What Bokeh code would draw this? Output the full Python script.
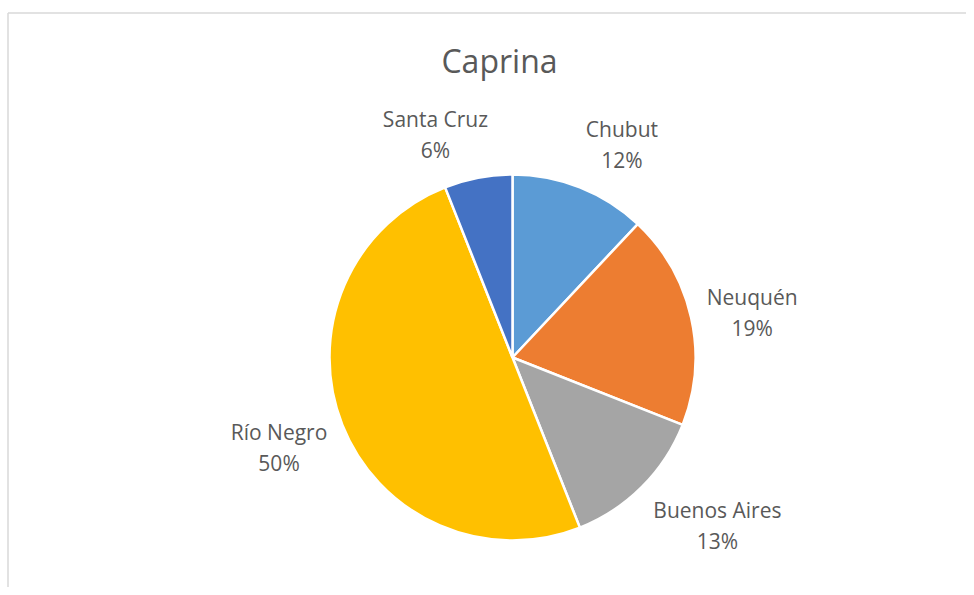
import math
from bokeh.plotting import figure
from bokeh.models import Range1d, ColumnDataSource
from bokeh.core.properties import value
from bokeh.embed import file_html
from bokeh.resources import INLINE

# ---- data ----
chart_title = "Caprina"
provinces = ["Chubut", "Neuquén", "Buenos Aires", "Río Negro", "Santa Cruz"]
shares = [12, 19, 13, 50, 6]
colors = ["#5B9BD5", "#ED7D31", "#A5A5A5", "#FFC000", "#4472C4"]

# ---- layout ----
W, H = 966, 587
CX, CY, R = 512, 230, 183          # pie centre / radius (px == data units)
FONT = "Open Sans"
TEXT_COLOR = "#595959"
LABEL_SIZE = 21
LINE_GAP = 31
LABEL_H = 55
GAP = 16

# approximate Open Sans advance widths (em) used to place outside labels
_ADV = {"C": .633, "h": .613, "u": .613, "b": .613, "t": .361, "N": .753,
        "e": .561, "q": .613, "é": .561, "n": .613, "B": .647, "o": .602,
        "s": .479, "A": .633, "i": .258, "r": .408, "R": .618, "í": .258,
        "g": .55, "S": .55, "a": .556, "z": .5, " ": .26, "%": .82}


def text_width(s, size):
    return sum(_ADV.get(ch, .572) for ch in s) * size


p = figure(width=W, height=H, output_backend="svg", toolbar_location=None,
           x_range=Range1d(0, W), y_range=Range1d(0, H), min_border=0)
p.axis.visible = False
p.grid.visible = False
p.outline_line_color = None
p.background_fill_color = "white"
p.border_fill_color = "white"

# chart-area border (top and left edges visible)
p.segment(x0=[7.5, 7.5], y0=[H - 12.5, H - 12.5], x1=[W, 7.5], y1=[H - 12.5, 0],
          line_color="#D9D9D9", line_width=1.5)

total = float(sum(shares))
starts, ends, mids = [], [], []
cum = 0.0
for s in shares:
    a0 = cum / total * 2 * math.pi
    cum += s
    a1 = cum / total * 2 * math.pi
    starts.append(math.pi / 2 - a0)
    ends.append(math.pi / 2 - a1)
    mids.append((a0 + a1) / 2)

src = ColumnDataSource(dict(start=starts, end=ends, color=colors, name=provinces))
p.wedge(x=CX, y=CY, radius=R, start_angle="start", end_angle="end",
        direction="clock", fill_color="color", line_color="white",
        line_width=2.5, source=src)

# labels outside the pie
names, pcts, lxs, ly_top, ly_bot = [], [], [], [], []
for name, s, th in zip(provinces, shares, mids):
    pct = f"{round(s / total * 100)}%"
    sx, cy = math.sin(th), math.cos(th)
    px = CX + (R + GAP) * sx
    py = CY + (R + GAP) * cy
    w = max(text_width(name, LABEL_SIZE), text_width(pct, LABEL_SIZE))
    xo = math.copysign(min(abs(sx) / 0.25, 1.0), sx) * w / 2
    yo = math.copysign(min(max((abs(cy) - 0.2) / 0.28, 0.0), 1.0), cy) * LABEL_H / 2
    lx, ly = px + xo, py + yo
    names.append(name); pcts.append(pct); lxs.append(lx)
    ly_top.append(ly + LINE_GAP / 2); ly_bot.append(ly - LINE_GAP / 2)

p.text(x=lxs, y=ly_top, text=names, text_font=value(FONT),
       text_font_size=f"{LABEL_SIZE}px", text_color=TEXT_COLOR,
       text_align="center", text_baseline="middle")
p.text(x=lxs, y=ly_bot, text=pcts, text_font=value(FONT),
       text_font_size=f"{LABEL_SIZE}px", text_color=TEXT_COLOR,
       text_align="center", text_baseline="middle")

# title
p.text(x=[499], y=[H - 60], text=[chart_title], text_font=value(FONT),
       text_font_size="32px", text_color=TEXT_COLOR,
       text_align="center", text_baseline="middle")

open("out.html", "w").write(file_html(p, INLINE))
